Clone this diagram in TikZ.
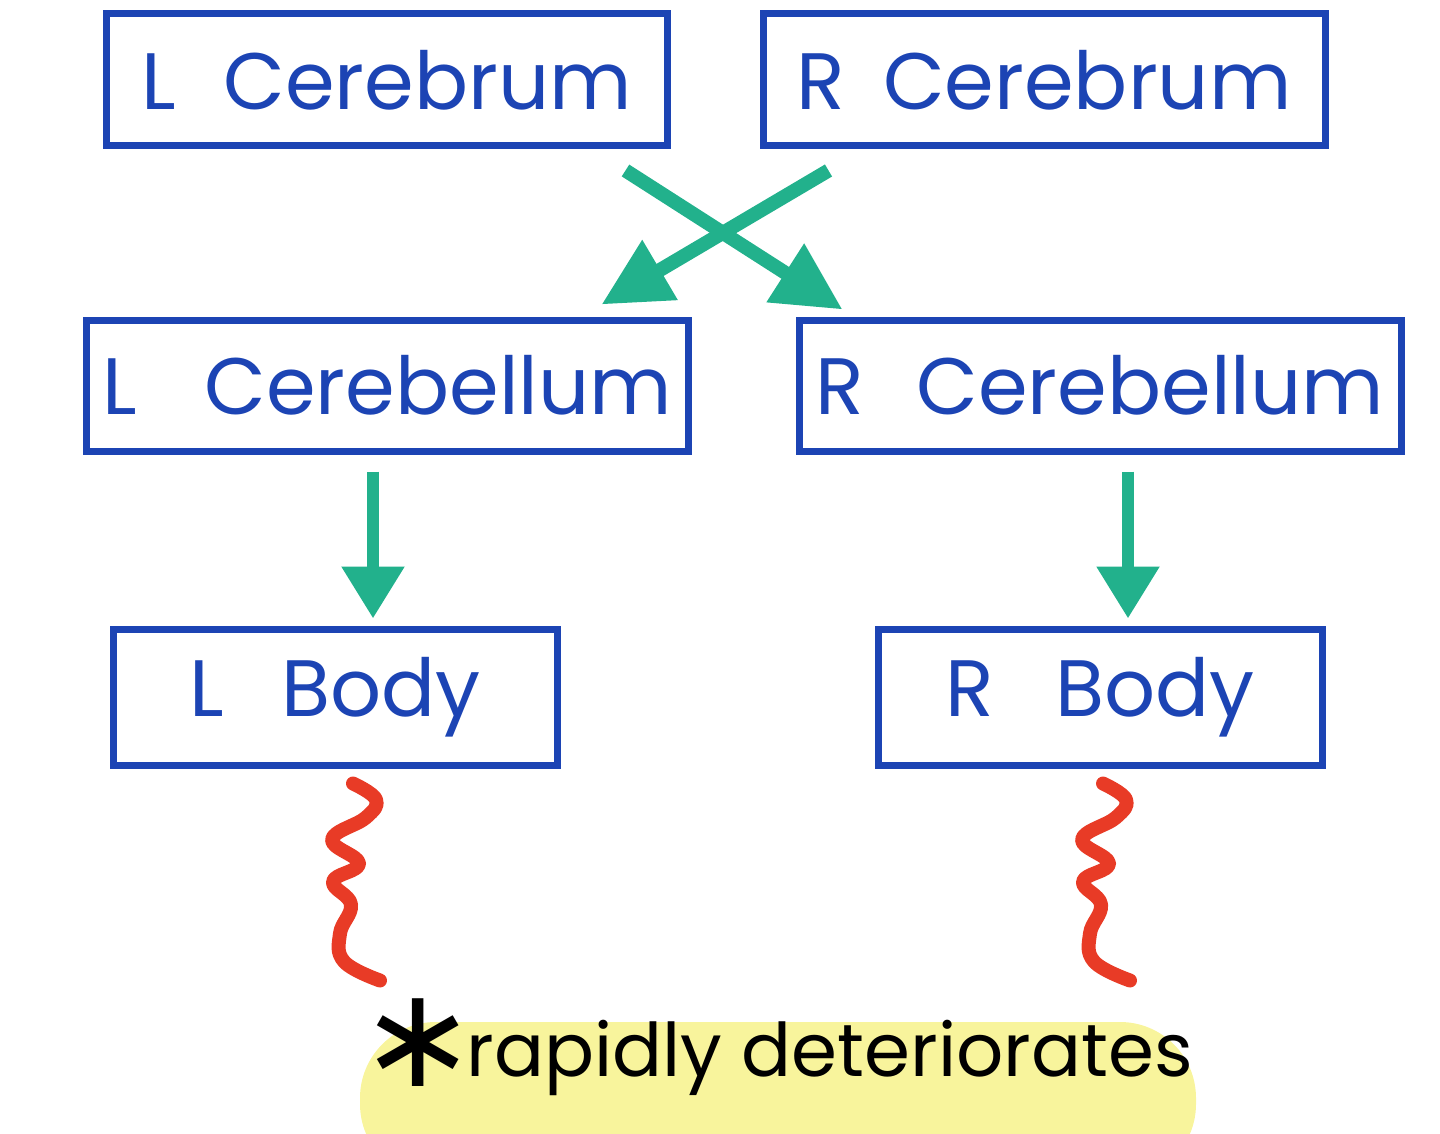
\documentclass[tikz,border=0pt]{standalone}
\usepackage{fontspec}
\setmainfont{Poppins}
\newfontfamily\astfont{DejaVu Sans}
\usetikzlibrary{arrows.meta}
\definecolor{boxblue}{HTML}{1C44B4}
\definecolor{arrgreen}{HTML}{22B18C}
\definecolor{wavered}{HTML}{E83B26}
\definecolor{hiyellow}{HTML}{F8F49C}
\tikzset{
  box/.style={draw=boxblue, line width=3.5pt, text=boxblue, inner sep=0pt,
    font=\fontsize{40}{40}\selectfont},
  crossarr/.style={draw=arrgreen, line width=7pt,
    -{Triangle[length=34pt,width=33pt]}},
  downarr/.style={draw=arrgreen, line width=6pt,
    -{Triangle[length=26pt,width=30pt]}},
  wave/.style={draw=wavered, line width=7pt, line cap=round, line join=round},
  pics/squig/.style={code={
    \draw[wave] plot[smooth, tension=0.7] coordinates
      {(0,0) (23,16) (13,34) (-21,56) (6,80) (-20,98) (-2,121) (-13,150) (-9,178) (27,197)};
  }}
}
\begin{document}
\begin{tikzpicture}[x=0.5pt,y=-0.5pt]
\useasboundingbox (0,0) rectangle (1440,1134);
\clip (0,0) rectangle (1440,1134);

% highlight
\fill[hiyellow, rounded corners=38pt] (360,1022) rectangle (1196,1180);

% boxes
\node[box, minimum width=280.5pt, minimum height=66pt] (lcer) at (386.5,80) {L\hspace{24pt}Cerebrum};
\node[box, minimum width=281pt, minimum height=66pt] (rcer) at (1044,80) {R\hspace{19pt}Cerebrum};
\node[box, minimum width=301pt, minimum height=65.5pt] (lcb) at (387,385.5) {L\hspace{34pt}Cerebellum};
\node[box, minimum width=301pt, minimum height=65.5pt] (rcb) at (1100,385.5) {R\hspace{26pt}Cerebellum};
\node[box, minimum width=222pt, minimum height=68pt] (lbody) at (335,697) {L\hspace{29pt}Body};
\node[box, minimum width=222pt, minimum height=68pt] (rbody) at (1100,697) {R\hspace{31pt}Body};

% crossing arrows
\draw[crossarr] ([shift={(158,21)}]lcer.south east) -- ([shift={(-90,-12)}]lcb.north east);
\draw[crossarr] ([shift={(-45,21)}]lcer.south east) -- ([shift={(47,-7)}]rcb.north west);

% vertical arrows
\draw[downarr] ([shift={(-14,17)}]lcb.south) -- ([shift={(38,-7)}]lbody.north);
\draw[downarr] ([shift={(28,17)}]rcb.south) -- ([shift={(28,-7)}]rbody.north);

% squiggles
\pic at ([shift={(18,15)}]lbody.south) {squig};
\pic at ([shift={(3,15)}]rbody.south) {squig};

% note
\node[font=\fontsize{37}{37}\selectfont, text=black, inner sep=0pt, anchor=base] (note) at (776,1076)
  {\smash{\raisebox{-5pt}{\astfont\fontsize{70}{70}\selectfont ∗}}\hspace{-5pt}rapidly deteriorates};
\end{tikzpicture}
\end{document}
